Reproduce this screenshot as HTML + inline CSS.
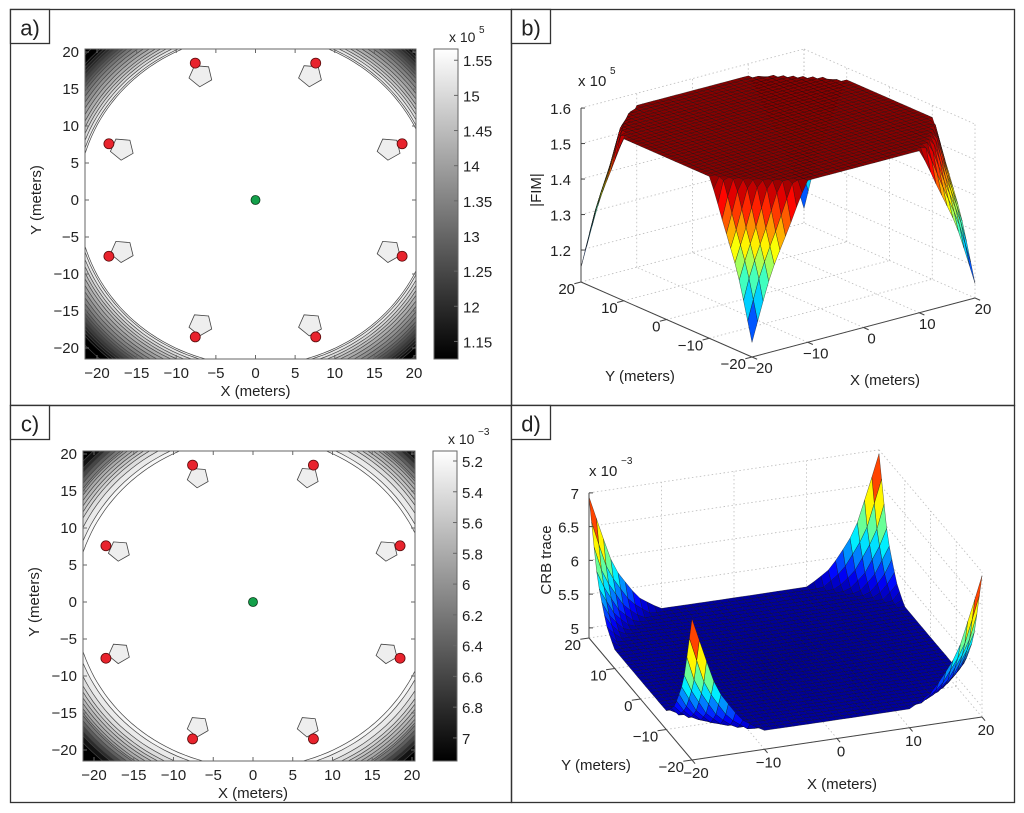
<!DOCTYPE html>
<html><head><meta charset="utf-8">
<style>
html,body{margin:0;padding:0;background:#fff;}
svg{display:block;font-family:"Liberation Sans",sans-serif;}
</style></head>
<body>
<svg id="fig" width="1024" height="813" viewBox="0 0 1024 813"></svg>
<script>
// ---- data ----
const sensorsX = [-7.6, 7.6, -18.5, 18.5, -18.5, 18.5, -7.6, 7.6];
const sensorsY = [18.5, 18.5, 7.6, 7.6, -7.6, -7.6, -18.5, -18.5];
const targetX = [0];
const targetY = [0];
const profileDist = [0, 22.4, 24, 26, 28.3, 29.6, 40];
const profileFIM = [1.566, 1.566, 1.45, 1.33, 1.15, 1.11, 1.11];
const profileCRB = [5.1, 5.13, 5.35, 5.85, 6.95, 7.15, 7.15];
const levelsA = [1.125,1.15,1.175,1.2,1.225,1.25,1.275,1.3,1.325,1.35,1.375,1.4,1.425,1.45,1.475,1.5,1.525,1.55];
const levelsC = [5.2,5.3,5.4,5.5,5.6,5.7,5.8,5.9,6.0,6.2,6.4,6.6,6.8,7.0];
const ticksXY = [-20,-15,-10,-5,0,5,10,15,20];
const cbarTicksA = [1.15,1.2,1.25,1.3,1.35,1.4,1.45,1.5,1.55];
const cbarLabelsA = ["1.15","12","1.25","13","1.35","14","1.45","15","1.55"];
const cbarTicksC = [5.2,5.4,5.6,5.8,6.0,6.2,6.4,6.6,6.8,7.0];
const cbarLabelsC = ["5.2","5.4","5.6","5.8","6","6.2","6.4","6.6","6.8","7"];
const ticks3D = [-20,-10,0,10,20];
const zTicksB = [1.2,1.3,1.4,1.5,1.6];
const zLabelsB = ["1.2","1.3","1.4","1.5","1.6"];
const zTicksD = [5,5.5,6,6.5,7];
const zLabelsD = ["5","5.5","6","6.5","7"];
const NP = 2; // shape exponent of the iso-lines

const NS = "http://www.w3.org/2000/svg";
const svg = document.getElementById('fig');
function el(tag, attrs, parent){
  const e = document.createElementNS(NS, tag);
  for (const k in attrs) e.setAttribute(k, attrs[k]);
  (parent||svg).appendChild(e);
  return e;
}
function txt(s, x, y, size, anchor, parent, name){
  const t = el('text', {x:x, y:y, 'font-size':size, 'text-anchor':anchor||'start', fill:'#222'}, parent);
  t.textContent = s;
  
  
  return t;
}
function interp(xs, ys, v){
  if (v <= xs[0]) return ys[0];
  for (let i=1;i<xs.length;i++){
    if (v <= xs[i]){ const t=(v-xs[i-1])/(xs[i]-xs[i-1]); return ys[i-1]+t*(ys[i]-ys[i-1]); }
  }
  return ys[ys.length-1];
}
function normP(x,y){ return Math.pow(Math.pow(Math.abs(x),NP)+Math.pow(Math.abs(y),NP),1/NP); }
function invProfile(prof, L){
  for (let i=1;i<profileDist.length;i++){
    const a=prof[i-1], b=prof[i];
    if ((a-L)*(b-L) <= 0 && a!==b){ return profileDist[i-1] + (L-a)/(b-a)*(profileDist[i]-profileDist[i-1]); }
  }
  return null;
}
function gray(t){ t=Math.max(0,Math.min(1,t)); const g=Math.round(t*255); return `rgb(${g},${g},${g})`; }
function jet(t){
  t=Math.max(0,Math.min(1,t));
  const c=v=>Math.round(255*Math.max(0,Math.min(1,v)));
  return `rgb(${c(1.5-Math.abs(4*t-3))},${c(1.5-Math.abs(4*t-2))},${c(1.5-Math.abs(4*t-1))})`;
}
function isoPath(X,Y,r){
  let d='';
  for(let k=0;k<=160;k++){
    const a=k/160*2*Math.PI, c=Math.cos(a), s=Math.sin(a);
    const x=r*Math.sign(c)*Math.pow(Math.abs(c),2/NP), y=r*Math.sign(s)*Math.pow(Math.abs(s),2/NP);
    d += (k?'L':'M')+X(x).toFixed(1)+','+Y(y).toFixed(1);
  }
  return d+'Z';
}

// ---- panel frames ----
const frames = [
  {n:'panel-a', x:10.5,y:9.5,w:501,h:396, lab:'a)'},
  {n:'panel-b', x:511.5,y:9.5,w:503,h:396, lab:'b)'},
  {n:'panel-c', x:10.5,y:405.5,w:501,h:397, lab:'c)'},
  {n:'panel-d', x:511.5,y:405.5,w:503,h:397, lab:'d)'}
];
frames.forEach(f=>{
  const r = el('rect',{x:f.x,y:f.y,width:f.w,height:f.h,fill:'none',stroke:'#333','stroke-width':1.3});
  
  
  const b = el('rect',{x:f.x,y:f.y,width:39,height:34,fill:'#fff',stroke:'#333','stroke-width':1.3});
  
  
  txt(f.lab, f.x+19.5, f.y+26, 22, 'middle', svg, f.n+'-label');
});

// ---- contour panels ----
function contourPanel(o){
  const g = el('g',{});
  
  
  const X = v => o.x0 + v*o.sx;
  const Y = v => o.y0 - v*o.sy;
  const cid = o.name+'-clip';
  const cp = el('clipPath',{id:cid}, g);
  el('rect',{x:o.L,y:o.T,width:o.R-o.L,height:o.B-o.T}, cp);
  const cg = el('g',{'clip-path':`url(#${cid})`}, g);
  const nrm = v => o.invert ? (o.vmax - v)/(o.vmax-o.vmin) : (v-o.vmin)/(o.vmax-o.vmin);
  const bg = el('rect',{x:o.L,y:o.T,width:o.R-o.L,height:o.B-o.T,fill:gray(nrm(o.invert?o.vmax:o.vmin))}, cg);
  
  
  const lv = o.levels.slice().sort((a,b)=> o.invert ? b-a : a-b);
  lv.forEach((L,i)=>{
    const d = invProfile(o.prof, L);
    if (d===null) return;
    const p = el('path',{d:isoPath(X,Y,d),fill:gray(nrm(L)),stroke:'#444','stroke-width':0.7}, cg);
    
    
  });
  const inner = el('path',{d:isoPath(X,Y,profileDist[1]),fill:'#fff',stroke:'#444','stroke-width':0.7}, cg);
  
  
  sensorsX.forEach((sx,i)=>{
    const bx = X(sx*0.91), by = Y(sensorsY[i]*0.91);
    const pts=[];
    for(let k=0;k<5;k++){ const a=k/5*2*Math.PI+0.4; pts.push((bx+Math.cos(a)*o.blob).toFixed(1)+','+(by+Math.sin(a)*o.blob*0.95).toFixed(1)); }
    const p = el('polygon',{points:pts.join(' '),fill:'#eee',stroke:'#444','stroke-width':0.8}, cg);
    
    
  });
  const box = el('rect',{x:o.L,y:o.T,width:o.R-o.L,height:o.B-o.T,fill:'none',stroke:'#666','stroke-width':1}, g);
  
  
  ticksXY.forEach(t=>{
    el('line',{x1:X(t),x2:X(t),y1:o.B,y2:o.B-4,stroke:'#666'},g);
    el('line',{x1:X(t),x2:X(t),y1:o.T,y2:o.T+4,stroke:'#666'},g);
    el('line',{x1:o.L,x2:o.L+4,y1:Y(t),y2:Y(t),stroke:'#666'},g);
    el('line',{x1:o.R,x2:o.R-4,y1:Y(t),y2:Y(t),stroke:'#666'},g);
    txt(t<0?'\u2212'+(-t):String(t), X(t), o.B+19, 15, 'middle', g, 'x-tick-label');
    txt(t<0?'\u2212'+(-t):String(t), o.L-6, Y(t)+5, 15, 'end', g, 'y-tick-label');
  });
  txt('X (meters)', X(0), o.B+37, 15, 'middle', g, 'x-axis-title');
  const yt = txt('Y (meters)', 0, 0, 15, 'middle', g, 'y-axis-title');
  yt.setAttribute('transform', `translate(${o.L-44},${Y(0)}) rotate(-90)`);
  sensorsX.forEach((sx,i)=>{
    const c = el('circle',{cx:X(sx),cy:Y(sensorsY[i]),r:5,fill:'#e8232d',stroke:'#5a0a0a','stroke-width':0.8}, g);
    
    
  });
  const tg = el('circle',{cx:X(targetX[0]),cy:Y(targetY[0]),r:4.5,fill:'#13a04a',stroke:'#0a3a1a','stroke-width':0.8}, g);
  
  
  const gid = o.name+'-grad';
  const lg = el('linearGradient',{id:gid,x1:0,y1:0,x2:0,y2:1}, g);
  el('stop',{offset:0,'stop-color':'#fff'},lg);
  el('stop',{offset:1,'stop-color':'#000'},lg);
  const cb = el('rect',{x:o.cbL,y:o.T,width:24,height:o.B-o.T,fill:`url(#${gid})`,stroke:'#666'}, g);
  
  
  const CY = v => o.invert ? o.T + (v-o.vmin)/(o.vmax-o.vmin)*(o.B-o.T) : o.B - (v-o.vmin)/(o.vmax-o.vmin)*(o.B-o.T);
  o.cbTicks.forEach((t,i)=>{
    el('line',{x1:o.cbL+24,x2:o.cbL+20,y1:CY(t),y2:CY(t),stroke:'#666'},g);
    txt(o.cbLabels[i], o.cbL+29, CY(t)+6, 15, 'start', g, 'colorbar-tick-label');
  });
  txt('x 10', o.cbL+15, o.T-7, 14, 'start', g, 'colorbar-exponent');
  txt(o.exp, o.cbL+45, o.T-16, 10, 'start', g, 'colorbar-exponent-power');
}
contourPanel({name:'panel-a-contour', L:85,R:416,T:49,B:359, x0:255.5,sx:7.925, y0:200,sy:7.4,
  prof:profileFIM, levels:levelsA, vmin:1.125, vmax:1.566, invert:false, blob:12,
  cbL:434, cbTicks:cbarTicksA, cbLabels:cbarLabelsA, exp:'5'});
contourPanel({name:'panel-c-contour', L:83,R:415,T:451,B:761, x0:253,sx:7.95, y0:602,sy:7.4,
  prof:profileCRB, levels:levelsC, vmin:5.135, vmax:7.15, invert:true, blob:11,
  cbL:433, cbTicks:cbarTicksC, cbLabels:cbarLabelsC, exp:'\u22123'});

// ---- surface panels ----
function surfacePanel(o){
  const g = el('g',{});
  
  
  const P = (x,y,z) => [o.ox + (x+20)*o.ex[0] + (y+20)*o.ey[0], o.oy + (x+20)*o.ex[1] + (y+20)*o.ey[1] - (z-o.zb)*o.kz];
  const line = (a,b,attrs,name)=>{ const l=el('line',Object.assign({x1:a[0],y1:a[1],x2:b[0],y2:b[1]},attrs),g);   return l; };
  const dot = {stroke:'#bbb','stroke-width':0.8,'stroke-dasharray':'1.5,2.5'};
  ticks3D.forEach(t=>{
    line(P(t,-20,o.zb),P(t,20,o.zb),dot,'floor-grid');
    line(P(-20,t,o.zb),P(20,t,o.zb),dot,'floor-grid');
    line(P(t,20,o.zb),P(t,20,o.zt),dot,'wall-grid');
    line(P(20,t,o.zb),P(20,t,o.zt),dot,'wall-grid');
  });
  o.zTicks.forEach(z=>{
    line(P(-20,20,z),P(20,20,z),dot,'wall-grid');
    line(P(20,20,z),P(20,-20,z),dot,'wall-grid');
  });
  const N = 40, step = 1;
  const quads=[];
  const Z = (x,y)=> interp(profileDist, o.prof, normP(x,y));
  for(let i=0;i<N;i++) for(let j=0;j<N;j++){
    const x0=-20+i*step, y0=-20+j*step, x1=x0+step, y1=y0+step;
    const zs=[Z(x0,y0),Z(x1,y0),Z(x1,y1),Z(x0,y1)];
    const zm=(zs[0]+zs[1]+zs[2]+zs[3])/4;
    const xc=(x0+x1)/2, yc=(y0+y1)/2;
    quads.push({depth:o.dv[0]*xc+o.dv[1]*yc, pts:[P(x0,y0,zs[0]),P(x1,y0,zs[1]),P(x1,y1,zs[2]),P(x0,y1,zs[3])], z:zm});
  }
  quads.sort((a,b)=>b.depth-a.depth);
  const sg = el('g',{stroke:'#111','stroke-width':0.4,'stroke-opacity':0.8,'stroke-linejoin':'round'},g);
  
  
  quads.forEach(q=>{
    const p = el('polygon',{points:q.pts.map(v=>v[0].toFixed(1)+','+v[1].toFixed(1)).join(' '),fill:jet((q.z-o.cmin)/(o.cmax-o.cmin))},sg);
    
    
  });
  const ax={stroke:'#444','stroke-width':1};
  line(P(-20,20,o.zb),P(-20,-20,o.zb),ax,'y-axis');
  line(P(-20,-20,o.zb),P(20,-20,o.zb),ax,'x-axis');
  line(P(-20,20,o.zb),P(-20,20,o.zt),ax,'z-axis');
  ticks3D.forEach(t=>{
    const a=P(t,-20,o.zb); line(a,[a[0]-o.ey[0]*1.2,a[1]-o.ey[1]*1.2],ax,'x-tick');
    const b=P(-20,t,o.zb); line(b,[b[0]-o.ex[0]*1.2,b[1]-o.ex[1]*1.2],ax,'y-tick');
    const lbx=t<0?'\u2212'+(-t):String(t);
    txt(lbx, a[0]+o.xlo[0], a[1]+o.xlo[1], 15, 'middle', g, 'x-tick-label');
    txt(lbx, b[0]+o.ylo[0], b[1]+o.ylo[1], 15, 'end', g, 'y-tick-label');
  });
  o.zTicks.forEach((z,i)=>{
    const a=P(-20,20,z); line(a,[a[0]+4,a[1]],ax,'z-tick');
    txt(o.zLabels[i], a[0]-10, a[1]+6, 15, 'end', g, 'z-tick-label');
  });
  txt('x 10', o.expPos[0], o.expPos[1], 15, 'start', g, 'z-exponent');
  txt(o.exp, o.expPos[0]+32, o.expPos[1]-12, 10, 'start', g, 'z-exponent-power');
  txt('X (meters)', o.xt[0], o.xt[1], 15, 'middle', g, 'x-axis-title');
  txt('Y (meters)', o.yt[0], o.yt[1], 15, 'middle', g, 'y-axis-title');
  const zt = txt(o.ztitle, 0, 0, 15, 'middle', g, 'z-axis-title');
  zt.setAttribute('transform', `translate(${o.ztp[0]},${o.ztp[1]}) rotate(-90)`);
}
surfacePanel({name:'panel-b-surface', ox:752, oy:357, ex:[5.575,-1.475], ey:[-4.275,-1.875], zb:1.11, zt:1.6, kz:355,
  dv:[4.275,5.575], prof:profileFIM, cmin:1.11, cmax:1.57, zTicks:zTicksB, zLabels:zLabelsB,
  xlo:[8,16], ylo:[-6,12], expPos:[578,86], exp:'5', xt:[885,385], yt:[640,381], ztitle:'|FIM|', ztp:[541,190]});
surfacePanel({name:'panel-d-surface', ox:692, oy:760, ex:[7.25,-1.075], ey:[-2.575,-3.05], zb:4.85, zt:7, kz:67.5,
  dv:[2.575,7.25], prof:profileCRB, cmin:5.07, cmax:6.97, zTicks:zTicksD, zLabels:zLabelsD,
  xlo:[4,18], ylo:[-8,12], expPos:[589,476], exp:'\u22123', xt:[842,789], yt:[596,770], ztitle:'CRB trace', ztp:[551,560]});
</script>
</body></html>
